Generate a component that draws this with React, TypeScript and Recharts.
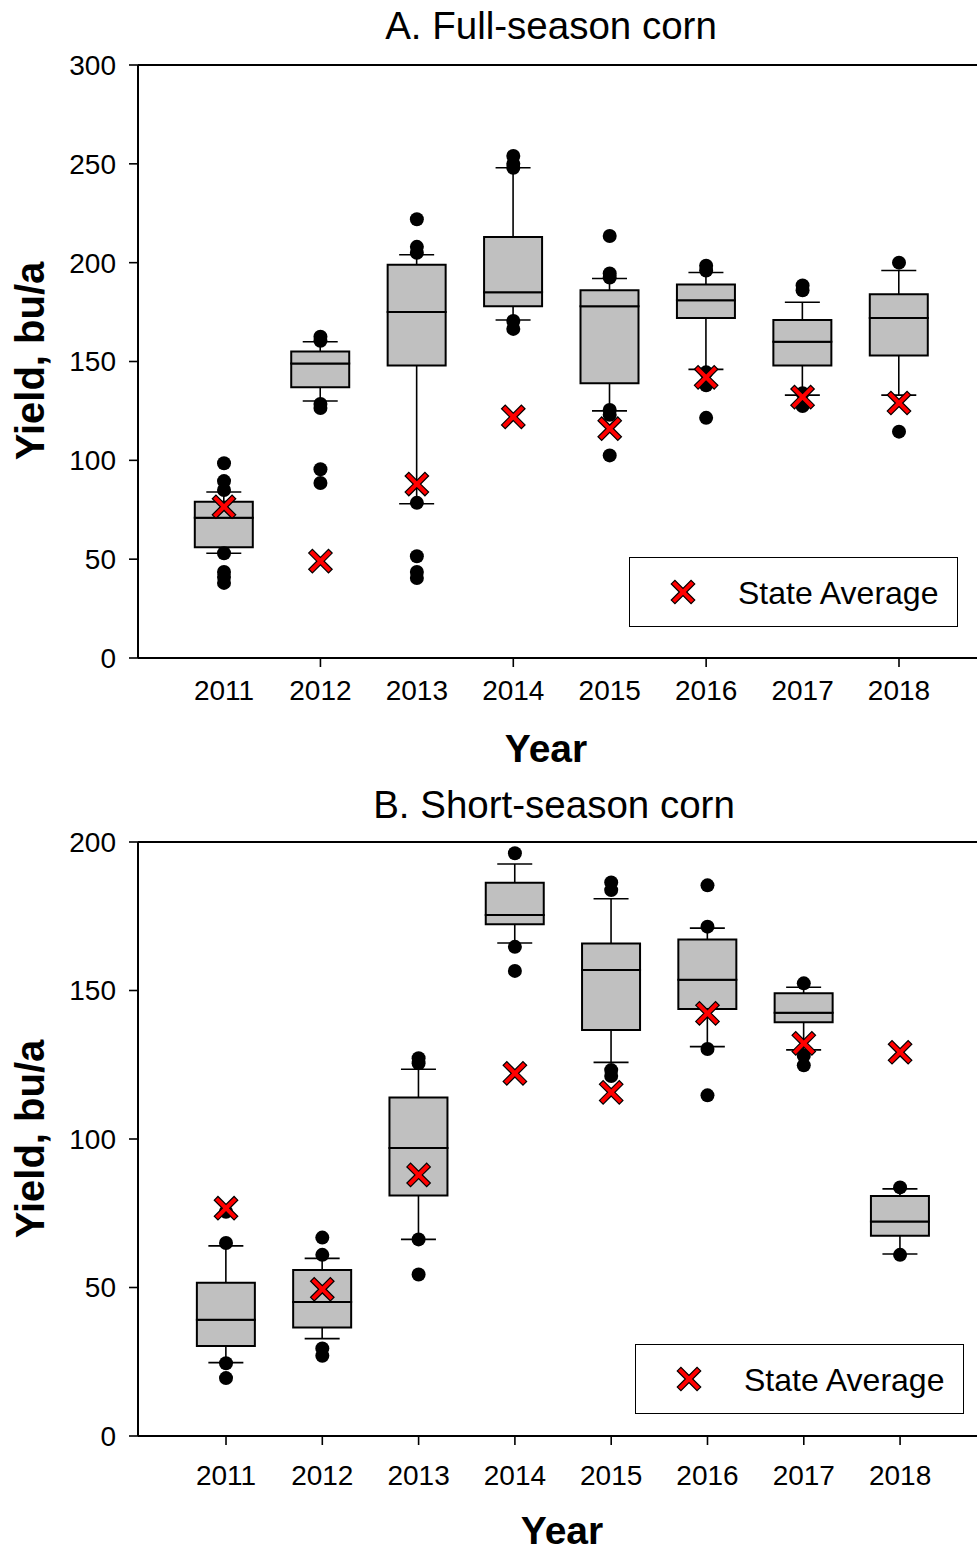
import React from 'react';
import { ComposedChart, Bar, Scatter, XAxis, YAxis, ReferenceLine, Legend } from 'recharts';

const years = [2011, 2012, 2013, 2014, 2015, 2016, 2017, 2018];

// A. Full-season corn (bu/a)
const fullLow = [53, 130, 78, 171, 125, 146, 133, 133];
const fullQ1 = [56, 137, 148, 178, 139, 172, 148, 153];
const fullMedian = [71, 149, 175, 185, 178, 181, 160, 172];
const fullQ3 = [79, 155, 199, 213, 186, 189, 171, 184];
const fullHigh = [84, 160, 204, 248, 192, 195, 180, 196];
const fullStateAvg = [76.5, 49, 88, 122, 116, 142, 132, 129];
const fullOutliers = [
  [98.5, 89.5, 85, 53, 43.5, 41, 38],
  [162.5, 160.5, 128.5, 126.5, 95.5, 88.5],
  [222, 208, 205, 78.5, 51.5, 43.5, 40.5],
  [254, 250, 248, 170.5, 166.5],
  [213.5, 194.5, 192.5, 125.5, 123, 102.5],
  [198.5, 196, 144.5, 138, 121.5],
  [188.5, 186, 134, 127.5],
  [200, 114.5],
];

// B. Short-season corn (bu/a)
const shortLow = [24.7, 32.8, 66.2, 166, 125.8, 131.1, 130, 61.3];
const shortQ1 = [30.3, 36.5, 81, 172.3, 136.7, 143.8, 139.3, 67.4];
const shortMedian = [39.1, 45.1, 97, 175.4, 156.9, 153.6, 142.5, 72.2];
const shortQ3 = [51.6, 55.9, 114, 186.3, 165.8, 167.2, 149.1, 80.8];
const shortHigh = [64, 59.8, 123.5, 192.6, 180.9, 171, 151.1, 83.2];
const shortStateAvg = [76.7, 49.4, 87.9, 122.1, 115.7, 142.3, 132.2, 129.2];
const shortOutliers = [
  [75.5, 65, 24.5, 19.5],
  [66.8, 61, 29.5, 27],
  [127.2, 125.5, 66.2, 54.4],
  [196.2, 164.7, 156.6],
  [186.4, 183.8, 123.2, 121.2],
  [185.4, 171.5, 130.3, 114.7],
  [152.4, 128, 124.8],
  [83.7, 61],
];

const yTicksFull = [0, 50, 100, 150, 200, 250, 300];
const yTicksShort = [0, 50, 100, 150, 200];

const FONT = '"Liberation Sans", Arial, sans-serif';

function boxRows(low: number[], q1: number[], med: number[], q3: number[], high: number[]) {
  return years.map((x, i) => ({
    x,
    base: low[i],
    lowWhisker: q1[i] - low[i],
    lowerBox: med[i] - q1[i],
    upperBox: q3[i] - med[i],
    highWhisker: high[i] - q3[i],
  }));
}

function pointRows(values: number[][]) {
  return years.flatMap((x, i) => values[i].map((y) => ({ x, y })));
}

const whisker = (capAtTop: boolean) => (props: any) => {
  const { x, y, width, height } = props;
  const cx = x + width / 2;
  const capY = capAtTop ? y : y + height;
  return (
    <g>
      <line x1={cx} x2={cx} y1={y} y2={y + height} stroke="#000" strokeWidth={1.6} />
      <line x1={cx - 17.5} x2={cx + 17.5} y1={capY} y2={capY} stroke="#000" strokeWidth={1.6} />
    </g>
  );
};

const t = 2.6;
const a = 14;
const crossPts = [
  [t, t], [t, a], [-t, a], [-t, t], [-a, t], [-a, -t],
  [-t, -t], [-t, -a], [t, -a], [t, -t], [a, -t], [a, t],
].map((p) => p.join(',')).join(' ');

function XMark({ cx, cy }: { cx: number; cy: number }) {
  return (
    <polygon
      points={crossPts}
      transform={`translate(${cx},${cy}) rotate(45)`}
      fill="#ff0000"
      stroke="#000"
      strokeWidth={1.2}
    />
  );
}

const dotShape = (props: any) => <circle cx={props.cx} cy={props.cy} r={7} fill="#000" />;
const crossShape = (props: any) => <XMark cx={props.cx} cy={props.cy} />;

function YearTick(props: any) {
  const { x, y, payload, lineYears, gap } = props;
  const axisY = y - 9 - gap;
  return (
    <g>
      {lineYears.includes(payload.value) && (
        <line x1={x} x2={x} y1={axisY} y2={axisY + 9} stroke="#000" strokeWidth={1.6} />
      )}
      <text x={x} y={y} dy="0.71em" textAnchor="middle" fontSize={28} fill="#000" fontFamily={FONT}>
        {payload.value}
      </text>
    </g>
  );
}

const legendContent = () => (
  <div
    style={{
      width: 329,
      height: 70,
      border: '1.5px solid #000',
      boxSizing: 'border-box',
      position: 'relative',
      background: '#fff',
      fontFamily: FONT,
    }}
  >
    <svg style={{ position: 'absolute', left: 38, top: 19 }} width={30} height={30}>
      <XMark cx={15} cy={15} />
    </svg>
    <span style={{ position: 'absolute', left: 108, top: 18.5, fontSize: 32, lineHeight: 1, whiteSpace: 'nowrap' }}>
      State Average
    </span>
  </div>
);

interface PanelProps {
  rows: ReturnType<typeof boxRows>;
  dots: { x: number; y: number }[];
  avg: { x: number; y: number }[];
  height: number;
  marginTop: number;
  xAxisHeight: number;
  yMax: number;
  yTicks: number[];
  xDomain: [number, number];
  tickLineYears: number[];
  tickGap: number;
  legendTop: number;
  legendLeft: number;
}

function BoxPanel(p: PanelProps) {
  return (
    <ComposedChart
      width={990}
      height={p.height}
      data={p.rows}
      margin={{ top: p.marginTop, right: 2, left: 0, bottom: 0 }}
      style={{ fontFamily: FONT }}
    >
      <XAxis
        dataKey="x"
        type="number"
        domain={p.xDomain}
        allowDataOverflow
        ticks={years}
        interval={0}
        height={p.xAxisHeight}
        tickSize={9}
        tickMargin={p.tickGap}
        tickLine={false}
        axisLine={{ stroke: '#000', strokeWidth: 2 }}
        tick={<YearTick lineYears={p.tickLineYears} gap={p.tickGap} />}
      />
      <YAxis
        type="number"
        domain={[0, p.yMax]}
        ticks={p.yTicks}
        interval={0}
        width={138}
        tickSize={9}
        tickMargin={13}
        axisLine={{ stroke: '#000', strokeWidth: 2 }}
        tickLine={{ stroke: '#000', strokeWidth: 1.6 }}
        tick={{ fill: '#000', fontSize: 28, fontFamily: FONT }}
      />
      <ReferenceLine y={p.yMax} stroke="#000" strokeWidth={2} />
      <Bar dataKey="base" stackId="box" barSize={58} fill="none" isAnimationActive={false} />
      <Bar dataKey="lowWhisker" stackId="box" barSize={58} shape={whisker(false)} isAnimationActive={false} />
      <Bar dataKey="lowerBox" stackId="box" barSize={58} fill="#c0c0c0" stroke="#000" strokeWidth={2} isAnimationActive={false} />
      <Bar dataKey="upperBox" stackId="box" barSize={58} fill="#c0c0c0" stroke="#000" strokeWidth={2} isAnimationActive={false} />
      <Bar dataKey="highWhisker" stackId="box" barSize={58} shape={whisker(true)} isAnimationActive={false} />
      <Scatter data={p.dots} dataKey="y" shape={dotShape} isAnimationActive={false} />
      <Scatter data={p.avg} dataKey="y" shape={crossShape} isAnimationActive={false} />
      <Legend
        layout="vertical"
        align="center"
        verticalAlign="middle"
        content={legendContent}
        wrapperStyle={{ position: 'absolute', left: p.legendLeft, top: p.legendTop, width: 329, height: 70 }}
      />
    </ComposedChart>
  );
}

const textBase: React.CSSProperties = {
  position: 'absolute',
  fontFamily: FONT,
  lineHeight: 1,
  whiteSpace: 'nowrap',
  color: '#000',
};

function Title({ text, cx, top }: { text: string; cx: number; top: number }) {
  return <div style={{ ...textBase, left: cx, top, fontSize: 38.5, transform: 'translateX(-50%)' }}>{text}</div>;
}

function YLabel({ cx, cy }: { cx: number; cy: number }) {
  return (
    <div
      style={{
        ...textBase,
        left: cx,
        top: cy,
        fontSize: 40,
        fontWeight: 'bold',
        transform: 'translate(-50%, -50%) rotate(-90deg)',
      }}
    >
      Yield, bu/a
    </div>
  );
}

function XLabel({ cx, top }: { cx: number; top: number }) {
  return (
    <div style={{ ...textBase, left: cx, top, fontSize: 39, fontWeight: 'bold', transform: 'translateX(-50%)' }}>
      Year
    </div>
  );
}

export default function App() {
  const fullRows = boxRows(fullLow, fullQ1, fullMedian, fullQ3, fullHigh);
  const shortRows = boxRows(shortLow, shortQ1, shortMedian, shortQ3, shortHigh);
  const fullAvg = years.map((x, i) => ({ x, y: fullStateAvg[i] }));
  const shortAvg = years.map((x, i) => ({ x, y: shortStateAvg[i] }));

  return (
    <div
      style={{
        position: 'absolute',
        left: 0,
        top: 0,
        width: 977,
        height: 1551,
        overflow: 'hidden',
        background: '#fff',
      }}
    >
      <div style={{ position: 'absolute', left: 0, top: 0 }}>
        <BoxPanel
          rows={fullRows}
          dots={pointRows(fullOutliers)}
          avg={fullAvg}
          height={780}
          marginTop={65}
          xAxisHeight={122}
          yMax={300}
          yTicks={yTicksFull}
          xDomain={[2010.108, 2018.923]}
          tickLineYears={[2012, 2014, 2016, 2018]}
          tickGap={13}
          legendLeft={629}
          legendTop={557}
        />
      </div>
      <div style={{ position: 'absolute', left: 0, top: 780 }}>
        <BoxPanel
          rows={shortRows}
          dots={pointRows(shortOutliers)}
          avg={shortAvg}
          height={771}
          marginTop={62}
          xAxisHeight={115}
          yMax={200}
          yTicks={yTicksShort}
          xDomain={[2010.086, 2018.913]}
          tickLineYears={years}
          tickGap={20}
          legendLeft={635}
          legendTop={564}
        />
      </div>
      <Title text="A. Full-season corn" cx={551} top={6.5} />
      <Title text="B. Short-season corn" cx={554} top={785.5} />
      <YLabel cx={30} cy={361} />
      <YLabel cx={30} cy={1139} />
      <XLabel cx={546} top={729} />
      <XLabel cx={562} top={1511} />
    </div>
  );
}
